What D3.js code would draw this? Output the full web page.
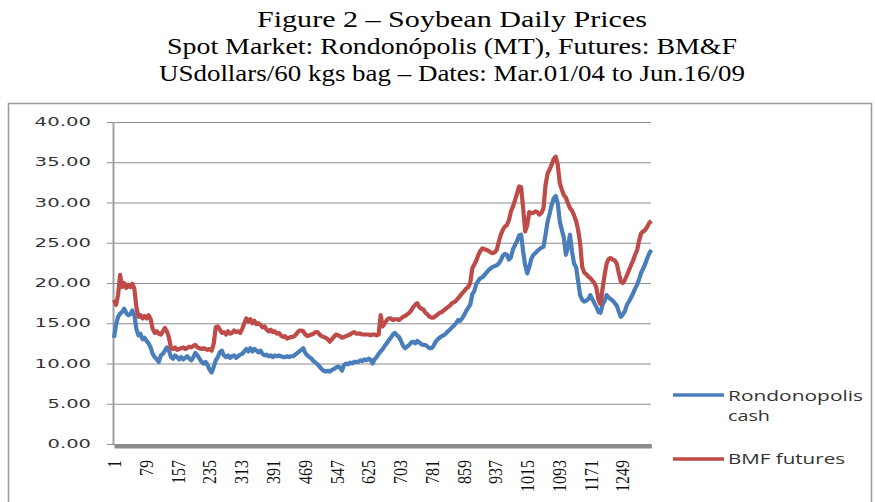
<!DOCTYPE html>
<html>
<head>
<meta charset="utf-8">
<title>Soybean Daily Prices</title>
<script src="https://d3js.org/d3.v7.min.js"></script>
<style>
  body { margin: 0; background: #fff; }
  .title { font-family: "Liberation Serif", "Times New Roman", serif; font-size: 23px; fill: #000; }
  .grid line { stroke: #8c8c8c; stroke-width: 1; }
  .ylab { font-family: "DejaVu Sans", Verdana, sans-serif; font-size: 11.5px; fill: #333; }
  .xlab { font-family: "Liberation Serif", "Times New Roman", serif; font-size: 16px; fill: #111; }
  .legend text { font-family: "Open Sans", sans-serif; font-size: 15px; fill: #333; }
  .series { fill: none; stroke-width: 4.2; stroke-linejoin: round; }
</style>
</head>
<body>
<script>
// trading day index (every 5th day, Mar.01/04 = day 1)
var days = [
  1,6,11,16,21,26,31,36,41,46,51,56,61,66,71,76,81,86,91,96,
  101,106,111,116,121,126,131,136,141,146,151,156,161,166,171,176,181,186,191,196,
  201,206,211,216,221,226,231,236,241,246,251,256,261,266,271,276,281,286,291,296,
  301,306,311,316,321,326,331,336,341,346,351,356,361,366,371,376,381,386,391,396,
  401,406,411,416,421,426,431,436,441,446,451,456,461,466,471,476,481,486,491,496,
  501,506,511,516,521,526,531,536,541,546,551,556,561,566,571,576,581,586,591,596,
  601,606,611,616,621,626,631,636,641,646,651,656,661,666,671,676,681,686,691,696,
  701,706,711,716,721,726,731,736,741,746,751,756,761,766,771,776,781,786,791,796,
  801,806,811,816,821,826,831,836,841,846,851,856,861,866,871,876,881,886,891,896,
  901,906,911,916,921,926,931,936,941,946,951,956,961,966,971,976,981,986,991,996,
  1001,1006,1011,1016,1021,1026,1031,1036,1041,1046,1051,1056,1061,1066,1071,1076,1081,1086,1091,1096,
  1101,1106,1111,1116,1121,1126,1131,1136,1141,1146,1151,1156,1161,1166,1171,1176,1181,1186,1191,1196,
  1201,1206,1211,1216,1221,1226,1231,1236,1241,1246,1251,1256,1261,1266,1271,1276,1281,1286,1291,1296,
  1301,1306,1311,1316,1321
];

// Rondonopolis cash, US$/60kg bag
var cash = [
  13.2,14.8,15.8,16.2,16.4,16.8,16.3,16.0,16.1,16.6,16.0,14.3,13.5,13.7,13.0,13.2,12.8,12.5,12.0,11.2,
  10.8,10.5,10.2,11.0,11.2,11.6,12.0,11.6,
  10.8,10.6,11.0,10.8,10.5,10.8,10.5,10.7,10.9,10.6,10.4,10.8,11.3,11.0,10.6,10.2,10.0,10.2,9.8,9.2,
  8.9,9.6,10.4,10.8,11.4,11.6,11.0,10.8,11.0,10.7,10.9,11.0,10.7,10.9,11.1,11.2,11.5,11.8,11.5,11.9,
  11.5,11.8,11.6,11.4,11.6,11.2,11.0,11.1,10.9,11.0,10.8,11.0,10.9,11.0,10.9,10.8,
  10.8,10.9,10.8,10.9,
  10.9,11.1,11.3,11.5,11.7,11.9,11.3,11.0,10.8,10.6,
  10.3,10.1,9.9,9.6,9.3,9.1,9.0,9.1,9.0,9.2,
  9.3,9.5,9.6,9.5,9.1,9.8,10.0,9.9,10.1,10.0,
  10.2,10.2,10.2,10.4,10.3,10.5,10.4,10.6,10.5,10.0,
  10.5,10.8,11.2,11.5,11.8,12.2,12.5,12.9,13.2,13.6,
  13.8,13.5,13.3,12.8,12.2,11.9,12.1,12.3,12.6,12.7,
  12.5,12.8,12.6,12.4,12.3,12.3,12.1,11.9,11.9,12.2,
  12.7,13.0,13.2,13.4,13.5,13.7,14.0,14.2,14.5,14.7,
  15.0,15.4,15.3,15.6,16.0,16.5,16.9,17.3,18.6,
  19.0,19.9,20.3,20.6,20.7,21.0,21.3,21.6,21.8,22.0,
  22.1,22.2,22.4,22.8,23.4,23.6,23.5,22.9,23.2,24.2,
  24.7,25.2,25.9,26.0,23.9,22.2,21.2,22.0,23.0,23.5,
  23.7,24.0,24.2,24.4,24.5,26.0,27.6,28.6,29.7,30.5,
  30.8,29.9,27.6,26.6,25.6,23.5,24.5,26.0,23.9,22.4,
  22.0,20.2,18.5,17.9,17.7,17.8,18.0,18.5,18.0,17.5,
  17.0,16.4,16.3,17.3,17.8,18.5,18.2,18.0,17.8,17.5,
  17.2,16.4,15.8,16.1,16.5,17.3,17.7,18.2,18.7,19.3,
  19.8,20.5,21.3,21.8,22.4,23.1,23.7,24.1
];

// BMF futures, US$/60kg bag
var futures = [
  17.9,17.3,18.5,21.0,19.5,20.0,19.4,19.8,19.5,19.9,19.3,17.0,15.8,16.0,15.6,15.9,15.6,16.0,15.5,14.3,
  13.8,14.0,13.7,13.6,14.0,14.4,14.0,13.2,
  11.9,11.8,12.0,11.7,11.8,11.9,12.0,11.8,11.9,12.1,12.0,12.2,12.3,12.0,11.9,11.8,11.9,11.8,11.7,11.8,
  11.6,12.5,14.5,14.6,14.2,13.8,13.9,13.6,14.0,13.7,13.8,14.1,13.9,14.0,13.8,14.3,15.0,15.6,15.2,15.5,
  15.0,15.3,14.9,15.0,14.8,14.5,14.6,14.2,14.0,14.2,13.9,14.0,13.7,13.8,13.5,13.3,
  13.4,13.1,13.2,13.3,
  13.3,13.5,13.8,14.1,14.1,14.0,13.6,13.4,13.5,13.6,
  13.7,13.9,13.9,13.6,13.4,13.3,13.2,13.0,12.7,13.0,
  13.3,13.6,13.5,13.4,13.2,13.3,13.4,13.5,13.6,13.8,
  13.9,13.7,13.7,13.7,13.6,13.6,13.6,13.6,13.5,13.6,
  13.6,13.5,13.6,16.0,14.6,15.0,15.4,15.6,15.6,15.4,
  15.5,15.5,15.4,15.6,15.8,15.9,16.1,16.3,16.6,17.0,
  17.3,17.5,17.0,16.8,16.7,16.3,16.1,15.8,15.7,15.7,
  15.9,16.1,16.3,16.4,16.6,16.8,17.0,17.2,17.5,17.6,
  17.8,18.1,18.4,18.7,19.0,19.3,19.5,20.0,21.8,
  22.3,22.8,23.5,24.0,24.3,24.2,24.1,24.0,23.8,23.7,
  23.8,24.1,25.1,26.0,26.6,27.0,27.2,27.8,28.9,29.5,
  30.3,31.1,32.0,31.9,29.3,26.4,27.2,28.8,28.7,28.7,
  28.9,28.8,28.5,28.7,29.3,32.2,33.6,34.1,34.7,35.4,
  35.7,34.7,32.4,31.6,30.9,30.6,29.9,29.3,29.0,28.4,
  27.7,26.6,24.9,22.0,21.3,21.1,20.8,20.6,20.3,20.0,
  19.4,17.9,17.4,19.3,21.0,22.4,23.0,23.1,22.9,22.8,
  22.4,21.2,20.2,20.0,20.4,21.0,21.6,22.2,22.8,23.5,
  24.1,25.3,26.2,26.4,26.6,27.0,27.5,27.7
];

var xTicks = [1, 79, 157, 235, 313, 391, 469, 547, 625, 703, 781, 859, 937, 1015, 1093, 1171, 1249];
var yTicks = [0, 5, 10, 15, 20, 25, 30, 35, 40];
var titleLines = [
  'Figure 2 \u2013 Soybean Daily Prices',
  'Spot Market: Rondon\u00f3polis (MT), Futures: BM&F',
  'USdollars/60 kgs bag \u2013 Dates: Mar.01/04 to Jun.16/09'
];
var seriesNames = [['Rondonopolis', 'cash'], ['BMF futures']];
var colors = ['#4a7ebb', '#be4b48'];

var W = 875, H = 502;
var svg = d3.select('body').append('svg').attr('width', W).attr('height', H);

// chart frame
svg.append('rect')
  .attr('x', 8.5).attr('y', 103.5).attr('width', 863).attr('height', 420)
  .attr('fill', 'none').attr('stroke', '#9a9a9a').attr('stroke-width', 1.5);

// title
var titleW = [390, 570, 586];
svg.selectAll('.title').data(titleLines).enter().append('text')
  .attr('class', 'title')
  .attr('x', 452)
  .attr('y', function(d, i){ return 27 + i * 27 })
  .attr('text-anchor', 'middle')
  .attr('textLength', function(d, i){ return titleW[i] })
  .attr('lengthAdjust', 'spacingAndGlyphs')
  .text(function(d){ return d });

var x = d3.scaleLinear().domain([1, 1321]).range([114, 651.4]);
var y = d3.scaleLinear().domain([0, 40]).range([444, 122]);

// gridlines + y labels
var fmt = d3.format('.2f');
svg.append('g')
  .attr('class', 'grid')
  .attr('transform', 'translate(651,0)')
  .call(d3.axisLeft(y).tickValues(yTicks).tickSize(544).tickPadding(16).tickFormat(fmt))
  .call(function(g){ g.select('.domain').remove() })
  .call(function(g){
    g.selectAll('text')
      .attr('class', 'ylab')
      .attr('textLength', function(d){ return (fmt(d).length - 1) * 13 + 4.4 })
      .attr('lengthAdjust', 'spacingAndGlyphs');
  });

// y axis line
svg.append('line')
  .attr('x1', 113.5).attr('x2', 113.5)
  .attr('y1', y(40)).attr('y2', y(0))
  .attr('stroke', '#a0a0a0').attr('stroke-width', 2);

// x axis
svg.append('g')
  .attr('transform', 'translate(0,446)')
  .call(d3.axisBottom(x).tickValues(xTicks).tickSize(0).tickSizeOuter(0).tickPadding(0).tickFormat(d3.format('d')))
  .call(function(g){
    g.select('.domain').attr('stroke', '#8c8c8c').attr('stroke-width', 4);
    g.selectAll('text')
      .attr('class', 'xlab')
      .attr('y', 0).attr('dy', '0.35em')
      .attr('text-anchor', 'end')
      .attr('transform', 'translate(0,14) rotate(-90) scale(1,1.2)');
  });

// series
var line = d3.line()
  .x(function(d){ return x(d.day) })
  .y(function(d){ return y(d.v) });

[cash, futures].forEach(function(vals, s){
  var pts = days.map(function(d, i){ return { day: d, v: vals[i] } });
  svg.append('path').datum(pts)
    .attr('class', 'series')
    .attr('stroke', colors[s])
    .attr('d', line);
});

// legend
var leg = svg.append('g').attr('class', 'legend');
var legY = [395, 459];
var legTextY = [[401, 421], [464]];
var legTextW = [[135, 42], [117]];
seriesNames.forEach(function(name, s){
  leg.append('line')
    .attr('x1', 673).attr('x2', 724)
    .attr('y1', legY[s]).attr('y2', legY[s])
    .attr('stroke', colors[s]).attr('stroke-width', 3.5);
  name.forEach(function(part, j){
    leg.append('text')
      .attr('x', 728).attr('y', legTextY[s][j])
      .attr('textLength', legTextW[s][j])
      .attr('lengthAdjust', 'spacingAndGlyphs')
      .text(part);
  });
});
</script>
</body>
</html>
